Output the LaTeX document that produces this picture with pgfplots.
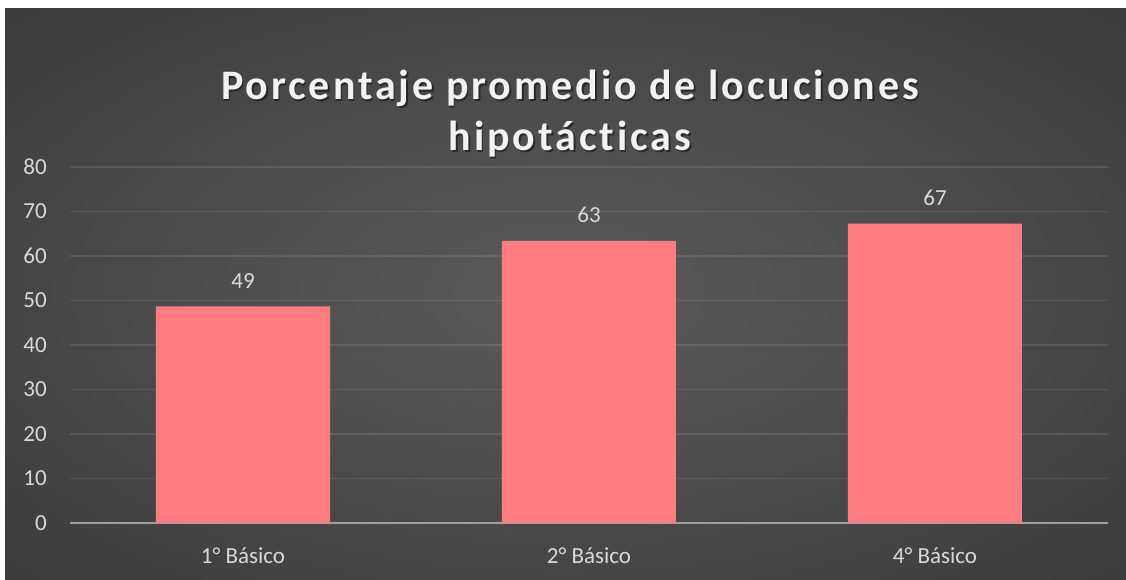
\documentclass[border=0pt]{standalone}
\usepackage{fontspec}
\setmainfont{Carlito}
\newfontfamily\titlefont[LetterSpace=7, Ligatures=NoCommon]{Carlito}
\usepackage{pgfplots}
\pgfplotsset{compat=1.18}
\definecolor{barc}{HTML}{FF7C80}
\definecolor{tickc}{HTML}{D9D9D9}
\definecolor{titc}{HTML}{F2F2F2}
\definecolor{bgin}{HTML}{5B5B5B}
\definecolor{bgout}{HTML}{2A2A2A}
\definecolor{bgedge}{HTML}{262626}
\definecolor{axc}{HTML}{A0A0A0}
\pgfdeclareradialshading{bgshade}{\pgfpointorigin}{color(0bp)=(bgin); color(55bp)=(bgout); color(71bp)=(bgedge)}
\begin{document}
\begin{tikzpicture}
\fill[white] (0pt,0pt) rectangle (1126pt,579pt);
\shade[shading=bgshade] (5pt,0pt) rectangle (1126pt,570pt);
\begin{axis}[
  at={(70pt,56pt)}, anchor=south west,
  scale only axis, width=1038pt, height=356pt,
  xmin=-0.5, xmax=2.5, ymin=0, ymax=80,
  ytick={0,10,...,80},
  xtick={0,1,2},
  xticklabels={1° Básico, 2° Básico, 4° Básico},
  axis x line*=bottom, axis y line*=left,
  y axis line style={draw=none},
  x axis line style={draw=axc, line width=2.2pt, -},
  major tick length=0pt,
  ymajorgrids,
  grid style={white, opacity=0.1, line width=1.2pt},
  /pgf/number format/assume math mode=true,
  ticklabel style={font=\fontsize{23}{28}\selectfont, text=tickc},
  yticklabel style={anchor=east, inner sep=0pt, xshift=-23pt},
  xticklabel style={anchor=base, inner sep=0pt, yshift=-40pt},
  ybar, bar width=174pt, bar shift=0pt,
  point meta=explicit symbolic,
  nodes near coords,
  every node near coord/.append style={anchor=south, inner sep=0pt, yshift=18pt, font=\fontsize{23}{28}\selectfont, text=tickc},
]
\addplot[fill=barc, draw=none] coordinates {(0,48.7) [49] (1,63.4) [63] (2,67.3) [67]};
\end{axis}
\node[anchor=base, text=black, opacity=0.45, font=\titlefont\bfseries\fontsize{42}{50}\selectfont] at (571.5pt,477.5pt) {Porcentaje promedio de locuciones};
\node[anchor=base, text=black, opacity=0.45, font=\titlefont\bfseries\fontsize{42}{50}\selectfont] at (571.5pt,426.5pt) {hipotácticas};
\node[anchor=base, text=titc, font=\titlefont\bfseries\fontsize{42}{50}\selectfont] at (570pt,479pt) {Porcentaje promedio de locuciones};
\node[anchor=base, text=titc, font=\titlefont\bfseries\fontsize{42}{50}\selectfont] at (570pt,428pt) {hipotácticas};
\pgfresetboundingbox
\useasboundingbox (0pt,0pt) rectangle (1126pt,579pt);
\end{tikzpicture}
\end{document}
